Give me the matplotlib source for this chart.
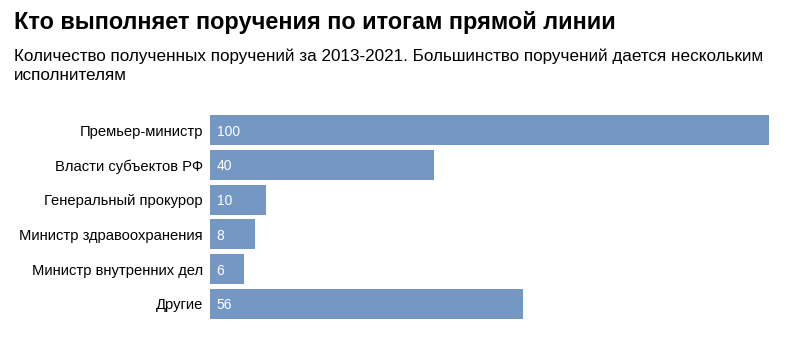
import matplotlib
matplotlib.use("Agg")
import matplotlib.pyplot as plt

plt.rcParams['font.family'] = ['Liberation Sans', 'DejaVu Sans']

categories = ["Премьер-министр", "Власти субъектов РФ", "Генеральный прокурор",
              "Министр здравоохранения", "Министр внутренних дел", "Другие"]
values = [100, 40, 10, 8, 6, 56]

title = "Кто выполняет поручения по итогам прямой линии"
subtitle = ("Количество полученных поручений за 2013-2021. Большинство поручений дается нескольким\n"
            "исполнителям")

W, H = 800, 339
fig = plt.figure(figsize=(W/100, H/100), dpi=100)
ax = fig.add_axes([210/W, 1-322/H, 559/W, (322-112)/H])

y = list(range(len(categories)))
ax.barh(y, values, height=0.86, color="#7597c4", align="center")
ax.set_ylim(len(categories)-0.5+0.02, -0.5-0.02)
ax.set_xlim(0, 100)
for i, v in enumerate(values):
    ax.text(1.2, i, str(v), color="white", va="center_baseline", ha="left",
            fontsize=10, fontweight="medium")
ax.set_yticks(y)
ax.set_yticklabels(categories, fontsize=10.6)
ax.tick_params(axis='y', length=0, pad=5)
ax.set_xticks([])
for s in ax.spines.values():
    s.set_visible(False)

fig.text(14/W, 1-29/H, title, fontsize=16.9, fontweight="bold", ha="left", va="baseline")
fig.text(14/W, 1-49/H, subtitle, fontsize=12.3, ha="left", va="top", linespacing=1.32)
fig.savefig("out.png", dpi=100, facecolor="white")
